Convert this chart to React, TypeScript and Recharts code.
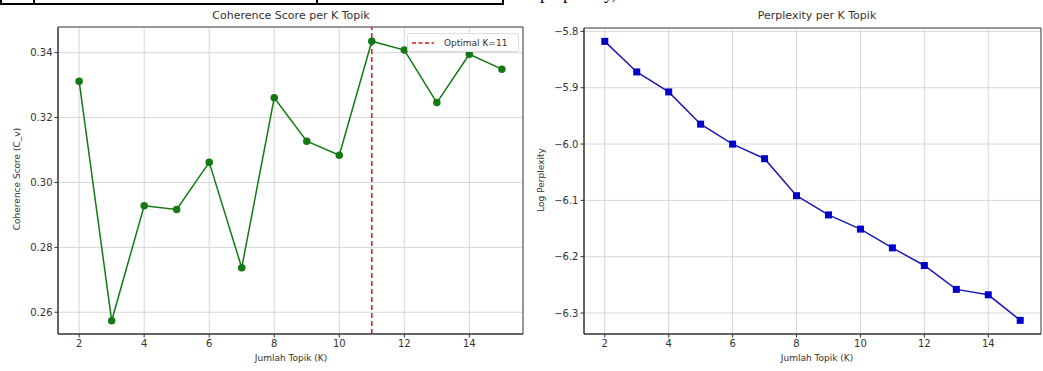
import React from "react";
import {
  CartesianGrid,
  Line,
  LineChart,
  ReferenceArea,
  ReferenceLine,
  XAxis,
  YAxis,
} from "recharts";

const topics = [2, 3, 4, 5, 6, 7, 8, 9, 10, 11, 12, 13, 14, 15];
const coherence = [
  0.3312, 0.2574, 0.2928, 0.2917, 0.3062, 0.2737, 0.3261, 0.3127, 0.3084,
  0.3435, 0.3408, 0.3246, 0.3395, 0.3349,
];
const logPerplexity = [
  -5.8177, -5.872, -5.9075, -5.9647, -6.0001, -6.026, -6.0917, -6.1258,
  -6.151, -6.1843, -6.2156, -6.258, -6.2676, -6.313,
];
const xTicks = [2, 4, 6, 8, 10, 12, 14];
const coherenceTicks = [0.26, 0.28, 0.3, 0.32, 0.34];
const perplexityTicks = [-6.3, -6.2, -6.1, -6.0, -5.9, -5.8];
const optimalK = 11;

const FONT = "'DejaVu Sans', sans-serif";
const TXT = "#333";
const X_DOMAIN: [number, number] = [1.35, 15.65];
const C_DOMAIN: [number, number] = [0.2533, 0.3479];
const P_DOMAIN: [number, number] = [-6.3372, -5.7940];

const coherenceData = topics.map((k, i) => ({ k, v: coherence[i] }));
const perplexityData = topics.map((k, i) => ({ k, v: logPerplexity[i] }));

const tick = { fill: TXT, fontSize: 10, fontFamily: FONT };

function SquareDot(props: any) {
  const { cx, cy, index } = props;
  if (cx == null || cy == null) return <g key={index} />;
  return (
    <rect key={index} x={cx - 3.5} y={cy - 3.5} width={7} height={7} fill="#0000c8" />
  );
}

function Title({ x, text }: { x: number; text: string }) {
  return (
    <div
      style={{
        position: "absolute",
        left: x - 150,
        width: 300,
        top: 9,
        textAlign: "center",
        fontFamily: FONT,
        fontSize: 11,
        color: TXT,
      }}
    >
      {text}
    </div>
  );
}

function XLabel({ x, text }: { x: number; text: string }) {
  return (
    <div
      style={{
        position: "absolute",
        left: x - 100,
        width: 200,
        top: 353,
        textAlign: "center",
        fontFamily: FONT,
        fontSize: 9,
        color: TXT,
      }}
    >
      {text}
    </div>
  );
}

function YLabel({ x, y, text }: { x: number; y: number; text: string }) {
  return (
    <div
      style={{
        position: "absolute",
        left: x - 100,
        top: y - 6,
        width: 200,
        textAlign: "center",
        fontFamily: FONT,
        fontSize: 9,
        color: TXT,
        transform: "rotate(-90deg)",
      }}
    >
      {text}
    </div>
  );
}

export default function App() {
  return (
    <div
      style={{
        position: "absolute",
        left: 0,
        top: 0,
        width: 1043,
        height: 371,
        background: "#fff",
        overflow: "hidden",
      }}
    >
      {/* bit of the page above the figure */}
      <div
        style={{
          position: "absolute",
          left: 0,
          top: -12,
          width: 500,
          height: 13,
          border: "2px solid #000",
        }}
      >
        <div style={{ position: "absolute", left: 31, top: 0, bottom: 0, borderLeft: "2px solid #000" }} />
        <div style={{ position: "absolute", left: 314, top: 0, bottom: 0, borderLeft: "2px solid #000" }} />
      </div>
      <div
        style={{
          position: "absolute",
          left: 540,
          top: -17,
          fontFamily: "'Liberation Serif', serif",
          fontSize: 18,
          color: "#000",
        }}
      >
        perplexity,
      </div>

      <div style={{ position: "absolute", left: 0, top: 0 }}>
        <LineChart
          width={530}
          height={371}
          data={coherenceData}
          margin={{ top: 27, right: 7, bottom: 0, left: 0 }}
        >
          <CartesianGrid stroke="#d6d6d6" />
          <XAxis
            dataKey="k"
            type="number"
            domain={X_DOMAIN}
            ticks={xTicks}
            allowDataOverflow
            height={37}
            tick={tick}
            tickSize={3.5}
            stroke={TXT}
          />
          <YAxis
            type="number"
            domain={C_DOMAIN}
            ticks={coherenceTicks}
            allowDataOverflow
            width={58}
            tick={tick}
            tickSize={3.5}
            stroke={TXT}
            tickFormatter={(v: number) => v.toFixed(2)}
          />
          <ReferenceArea
            x1={X_DOMAIN[0]}
            x2={X_DOMAIN[1]}
            y1={C_DOMAIN[0]}
            y2={C_DOMAIN[1]}
            fill="none"
            stroke="#444"
            ifOverflow="visible"
          />
          <ReferenceLine
            x={optimalK}
            stroke="#e8141a"
            strokeDasharray="5 3"
            strokeWidth={1.5}
          />
          <Line
            dataKey="v"
            stroke="#137a13"
            strokeWidth={1.5}
            dot={{ r: 3, fill: "#137a13", stroke: "#137a13" }}
            isAnimationActive={false}
          />
        </LineChart>
      </div>

      <div style={{ position: "absolute", left: 526, top: 0 }}>
        <LineChart
          width={517}
          height={371}
          data={perplexityData}
          margin={{ top: 28, right: 2, bottom: 0, left: 0 }}
        >
          <CartesianGrid stroke="#d6d6d6" />
          <XAxis
            dataKey="k"
            type="number"
            domain={X_DOMAIN}
            ticks={xTicks}
            allowDataOverflow
            height={37}
            tick={tick}
            tickSize={3.5}
            stroke={TXT}
          />
          <YAxis
            type="number"
            domain={P_DOMAIN}
            ticks={perplexityTicks}
            allowDataOverflow
            width={58}
            tick={tick}
            tickSize={3.5}
            stroke={TXT}
            tickFormatter={(v: number) => v.toFixed(1).replace("-", "\u2212")}
          />
          <ReferenceArea
            x1={X_DOMAIN[0]}
            x2={X_DOMAIN[1]}
            y1={P_DOMAIN[0]}
            y2={P_DOMAIN[1]}
            fill="none"
            stroke="#444"
            ifOverflow="visible"
          />
          <Line
            dataKey="v"
            stroke="#1a1ab4"
            strokeWidth={1.5}
            dot={<SquareDot />}
            isAnimationActive={false}
          />
        </LineChart>
      </div>

      <Title x={291} text="Coherence Score per K Topik" />
      <Title x={817} text="Perplexity per K Topik" />
      <XLabel x={291} text="Jumlah Topik (K)" />
      <XLabel x={817} text="Jumlah Topik (K)" />
      <YLabel x={17} y={180} text="Coherence Score (C_v)" />
      <YLabel x={541} y={181} text="Log Perplexity" />

      {/* legend */}
      <div
        style={{
          position: "absolute",
          left: 407,
          top: 33,
          width: 110,
          height: 17,
          border: "1px solid #ddd",
          borderRadius: 2,
          background: "rgba(255,255,255,0.85)",
          fontFamily: FONT,
          fontSize: 9,
          color: TXT,
          display: "flex",
          alignItems: "center",
        }}
      >
        <svg width={28} height={10} style={{ marginLeft: 4 }}>
          <line x1={0} y1={5} x2={22} y2={5} stroke="#e8141a" strokeWidth={1.5} strokeDasharray="4 2.5" />
        </svg>
        <span style={{ marginLeft: 4 }}>Optimal K=11</span>
      </div>
    </div>
  );
}
